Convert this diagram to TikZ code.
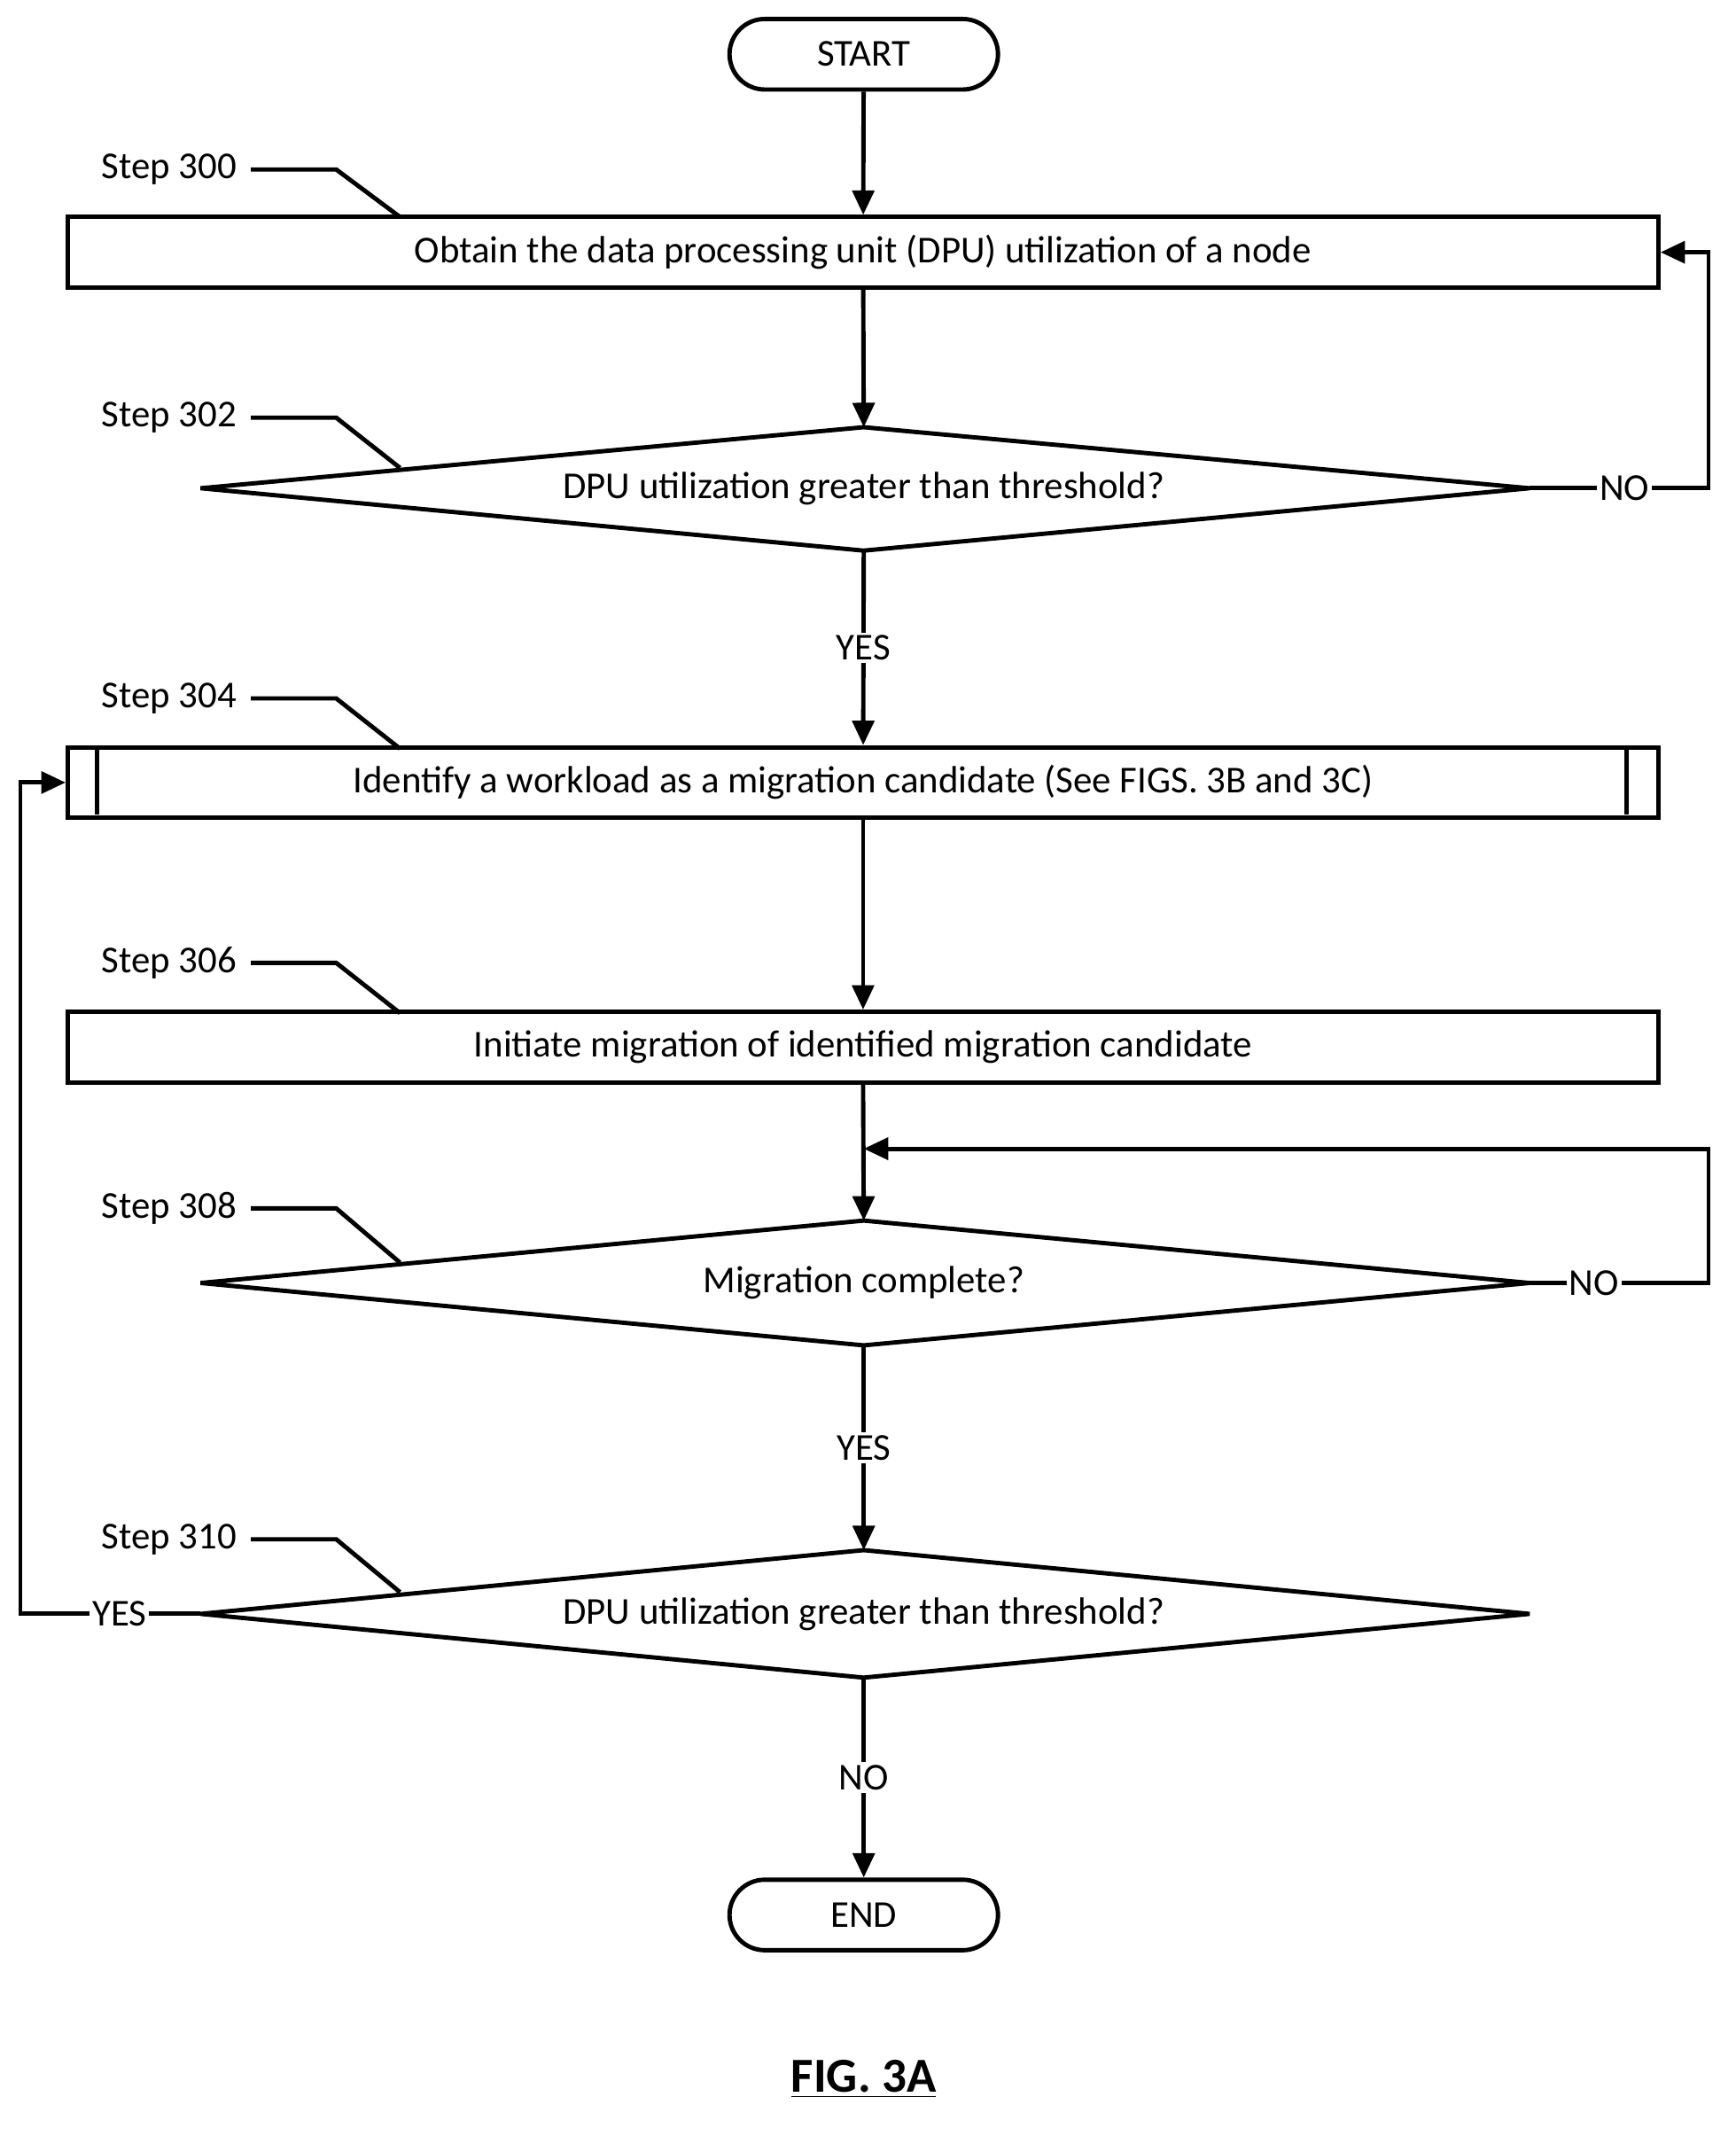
\documentclass[tikz,border=0pt]{standalone}
\usepackage{fontspec}
\setmainfont{Carlito}
\usetikzlibrary{arrows.meta}
\begin{document}
\begin{tikzpicture}[x=0.5pt,y=-0.5pt,
  line width=1.6pt,
  txt/.style={font=\fontsize{14}{16}\selectfont, inner sep=1pt},
  lab/.style={txt, fill=white},
  term/.style={draw, rounded corners=13pt, minimum width=99pt, minimum height=26pt, txt},
  box/.style={draw, minimum width=586.5pt, minimum height=26pt, txt},
  arr/.style={-{Triangle[length=9pt,width=8pt]}},
  dia/.style={draw, line join=miter}]
\useasboundingbox (0,0) rectangle (1280,1575);
\node[term] (start) at (637,40) {START};
\node[box] (b300) at (636.5,186) {Obtain the data processing unit (DPU) utilization of a node};
% diamond 302
\coordinate (d302t) at (637,315); \coordinate (d302b) at (637,406);
\coordinate (d302l) at (148,360); \coordinate (d302r) at (1128,360);
\draw[dia] (d302t) -- (d302r) -- (d302b) -- (d302l) -- cycle;
\node[txt] (t302) at (637,360) {DPU utilization greater than threshold?};
\node[box] (b304) at (636.5,577) {Identify a workload as a migration candidate (See FIGS. 3B and 3C)};
\draw (b304.north west) ++(23,0) coordinate (q1) -- ++(0,51);
\draw (b304.north east) ++(-25,0) coordinate (q2) -- ++(0,51);
\node[box] (b306) at (636.5,772) {Initiate migration of identified migration candidate};
% diamond 308
\coordinate (d308t) at (637,900); \coordinate (d308b) at (637,992);
\coordinate (d308l) at (148,946); \coordinate (d308r) at (1128,946);
\draw[dia] (d308t) -- (d308r) -- (d308b) -- (d308l) -- cycle;
\node[txt] (t308) at (637,946) {Migration complete?};
% diamond 310
\coordinate (d310t) at (637,1143); \coordinate (d310b) at (637,1237);
\coordinate (d310l) at (148,1190); \coordinate (d310r) at (1128,1190);
\draw[dia] (d310t) -- (d310r) -- (d310b) -- (d310l) -- cycle;
\node[txt] (t310) at (637,1190) {DPU utilization greater than threshold?};
\node[term] (end) at (637,1412) {END};
\node[font=\fontsize{18}{20}\selectfont\bfseries] (fig) at (637,1533) {\underline{FIG. 3A}};
% connectors
\draw[arr] (start) -- (b300);
\draw[arr] (b300) -- (d302t);
\draw[arr] (d302b) -- node[lab]{YES} (b304);
\draw[arr] (b304) -- (b306);
\coordinate (j308) at (637,847);
\draw[arr] (b306.south) -- (d308t);
\draw[arr] (d308r) -- node[lab,pos=0.36]{NO} (1260,946) -- (1260,847) -- (j308);
\draw[arr] (d302r) -- node[lab,pos=0.53]{NO} (1260,360) -- (1260,186) -- (b300.east);
\draw[arr] (d308b) -- node[lab]{YES} (d310t);
\draw[arr] (d310l) -- node[lab,pos=0.45]{YES} (15,1190) -- (15,577) -- (b304.west);
\draw[arr] (d310b) -- node[lab]{NO} (end);
% step labels
\foreach \n/\y/\ty in {300/125/160, 302/308/345, 304/515/552, 306/710/747, 308/891/931, 310/1135/1174}{
  \node[txt,anchor=east] (s\n) at (178,\y) {Step \n};
  \draw (185,\y) -- (248,\y) -- (295,\ty);
}
\end{tikzpicture}
\end{document}
